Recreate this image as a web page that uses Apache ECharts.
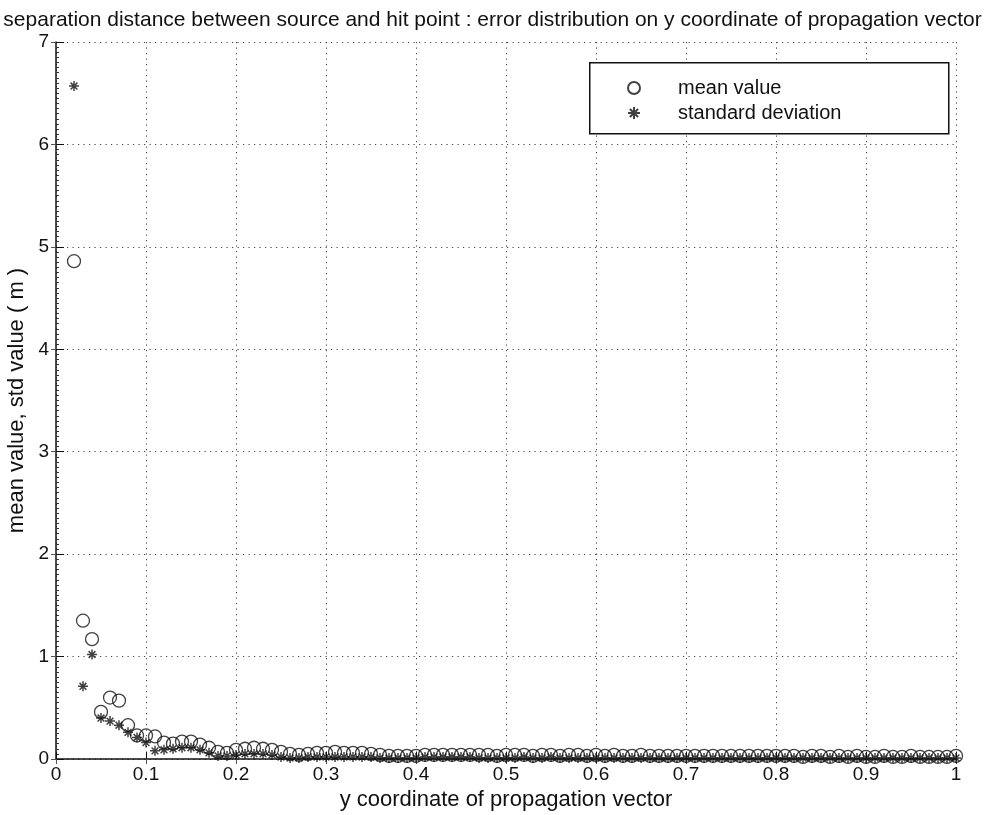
<!DOCTYPE html>
<html><head><meta charset="utf-8">
<script src="https://cdn.jsdelivr.net/npm/echarts@6/dist/echarts.min.js"></script>
<style>html,body{margin:0;padding:0;background:#fff}#c{width:985px;height:815px}</style>
</head><body><div id="c"></div>
<script>
var titleText = 'separation distance between source and hit point : error distribution on y coordinate of propagation vector';
var xName = 'y coordinate of propagation vector';
var yName = 'mean value, std value ( m )';
var seriesNames = ['mean value', 'standard deviation'];
var xTickLabels = ['0','0.1','0.2','0.3','0.4','0.5','0.6','0.7','0.8','0.9','1'];

var xVals = [0.02,0.03,0.04,0.05,0.06,0.07,0.08,0.09,0.10,
 0.11,0.12,0.13,0.14,0.15,0.16,0.17,0.18,0.19,0.20,
 0.21,0.22,0.23,0.24,0.25,0.26,0.27,0.28,0.29,0.30,
 0.31,0.32,0.33,0.34,0.35,0.36,0.37,0.38,0.39,0.40,
 0.41,0.42,0.43,0.44,0.45,0.46,0.47,0.48,0.49,0.50,
 0.51,0.52,0.53,0.54,0.55,0.56,0.57,0.58,0.59,0.60,
 0.61,0.62,0.63,0.64,0.65,0.66,0.67,0.68,0.69,0.70,
 0.71,0.72,0.73,0.74,0.75,0.76,0.77,0.78,0.79,0.80,
 0.81,0.82,0.83,0.84,0.85,0.86,0.87,0.88,0.89,0.90,
 0.91,0.92,0.93,0.94,0.95,0.96,0.97,0.98,0.99,1.00];

var meanVals = [4.86,1.35,1.17,0.46,0.60,0.57,0.33,0.23,0.23,
 0.22,0.16,0.15,0.17,0.17,0.14,0.11,0.07,0.06,0.09,
 0.10,0.11,0.10,0.09,0.07,0.05,0.04,0.05,0.06,0.06,
 0.07,0.06,0.06,0.06,0.05,0.04,0.03,0.03,0.03,0.03,
 0.04,0.04,0.04,0.04,0.04,0.04,0.04,0.04,0.03,0.04,
 0.04,0.04,0.03,0.04,0.04,0.03,0.04,0.04,0.03,0.04,
 0.03,0.04,0.03,0.03,0.04,0.03,0.03,0.03,0.03,0.03,
 0.03,0.03,0.03,0.03,0.03,0.03,0.03,0.03,0.03,0.03,
 0.03,0.03,0.02,0.03,0.03,0.02,0.03,0.02,0.03,0.02,
 0.02,0.03,0.02,0.02,0.03,0.02,0.02,0.02,0.02,0.03];

var stdVals = [6.57,0.71,1.02,0.40,0.37,0.33,0.26,0.21,0.16,
 0.08,0.09,0.10,0.11,0.11,0.09,0.06,0.03,0.03,0.04,
 0.05,0.05,0.05,0.04,0.02,0.01,0.01,0.02,0.02,0.02,
 0.02,0.02,0.02,0.02,0.02,0.01,0.01,0.01,0.01,0.01,
 0.02,0.02,0.02,0.02,0.02,0.02,0.01,0.01,0.01,0.01,
 0.01,0.02,0.01,0.01,0.02,0.01,0.01,0.01,0.01,0.01,
 0.01,0.01,0.01,0.01,0.01,0.01,0.01,0.01,0.01,0.01,
 0.01,0.01,0.01,0.01,0.01,0.01,0.01,0.01,0.01,0.01,
 0.01,0.01,0.01,0.01,0.01,0.01,0.01,0.01,0.01,0.01,
 0.01,0.01,0.01,0.01,0.01,0.01,0.01,0.01,0.01,0.01];

function pairs(xs, ys){ var o=[]; for (var i=0;i<xs.length;i++) o.push([xs[i], ys[i]]); return o; }

var FONT = 'Liberation Sans';
var starPath = 'path://M5 0L5 10M0 5L10 5M1.6 1.6L8.4 8.4M8.4 1.6L1.6 8.4';
var grid = {left:56, right:29, top:42, bottom:56, containLabel:false, outerBoundsMode:'none'};
var gridLine = {show:true, lineStyle:{color:'#444', width:1, type:[1.2,4.3]}};

var chart = echarts.init(document.getElementById('c'), null, {renderer:'canvas'});
chart.setOption({
  animation:false,
  backgroundColor:'#fff',
  title:{text:titleText, left:'center', top:5, textStyle:{fontFamily:FONT, fontSize:21, fontWeight:'normal', color:'#111'}},
  graphic:[{type:'rect', left:589, top:62, z:3, shape:{width:359, height:71}, style:{fill:'#fff', stroke:'#111', lineWidth:1.5}}],
  legend:{orient:'vertical', left:622, top:73, z:5, itemWidth:12, itemHeight:12, itemGap:5,
    textStyle:{fontFamily:FONT, fontSize:20, color:'#111', padding:[0,0,0,33]},
    data:[{name:seriesNames[0]},{name:seriesNames[1]}]},
  grid:grid,
  xAxis:[{type:'value', min:0, max:1, interval:0.1, position:'bottom',
    name:xName, nameLocation:'middle', nameGap:28, nameTextStyle:{fontFamily:FONT, fontSize:22, color:'#111'},
    axisLine:{show:true, onZero:false, lineStyle:{color:'#111', width:1.5}},
    axisTick:{show:true, inside:true, length:7, lineStyle:{color:'#111'}},
    axisLabel:{fontFamily:FONT, fontSize:19, color:'#111', margin:6, formatter:function(v){ return xTickLabels[Math.round(v*10)]; }},
    splitLine:gridLine},
   {type:'value', min:0, max:1, interval:0.1, position:'top',
    axisLine:{show:false}, axisTick:{show:true, inside:true, length:5, lineStyle:{color:'#555'}},
    axisLabel:{show:false}, splitLine:{show:false}}],
  yAxis:[{type:'value', min:0, max:7, interval:1, position:'left',
    name:yName, nameLocation:'middle', nameGap:26, nameTextStyle:{fontFamily:FONT, fontSize:22, color:'#111'},
    axisLine:{show:true, onZero:false, lineStyle:{color:'#111', width:1.5}},
    axisTick:{show:true, inside:true, length:8, lineStyle:{color:'#111'}},
    minorTick:{show:true, splitNumber:20, length:3, lineStyle:{color:'#333'}},
    axisLabel:{fontFamily:FONT, fontSize:19, color:'#111', margin:7},
    splitLine:gridLine},
   {type:'value', min:0, max:7, interval:1, position:'right',
    axisLine:{show:false}, axisTick:{show:true, inside:true, length:5, lineStyle:{color:'#555'}},
    axisLabel:{show:false}, splitLine:{show:false}}],
  series:[
    {name:seriesNames[1], type:'scatter', xAxisIndex:0, yAxisIndex:0, z:2,
     symbol:starPath, symbolSize:10,
     itemStyle:{color:'rgba(0,0,0,0)', borderColor:'#111', borderWidth:1.5},
     data:pairs(xVals, stdVals)},
    {name:seriesNames[0], type:'scatter', xAxisIndex:0, yAxisIndex:0, z:3,
     symbol:'circle', symbolSize:13,
     itemStyle:{color:'rgba(0,0,0,0)', borderColor:'#111', borderWidth:1.3},
     data:pairs(xVals, meanVals)}
  ]
});
</script></body></html>
